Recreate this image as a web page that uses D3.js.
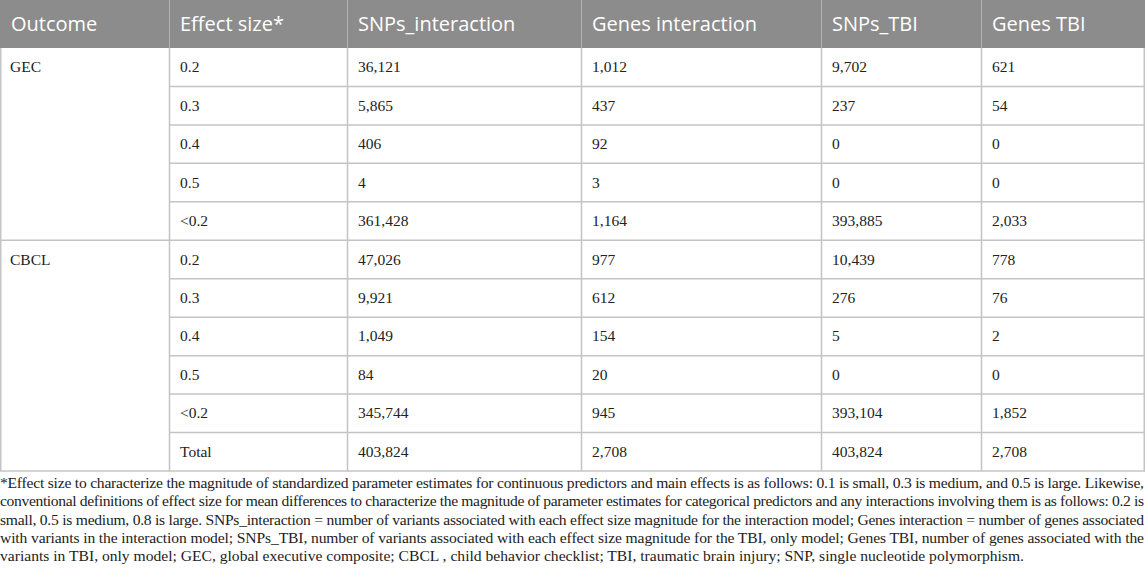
<!DOCTYPE html>
<html><head><meta charset="utf-8">
<script src="https://cdn.jsdelivr.net/npm/d3@7"></script>
<style>
html,body{margin:0;padding:0;background:#fff;}
svg{display:block;}
</style></head>
<body>
<script>
const columns = ["Outcome","Effect size*","SNPs_interaction","Genes interaction","SNPs_TBI","Genes TBI"];
const outcomes = ["GEC","CBCL"];
const gecEffect = ["0.2","0.3","0.4","0.5","<0.2"];
const gecSnpsInteraction = ["36,121","5,865","406","4","361,428"];
const gecGenesInteraction = ["1,012","437","92","3","1,164"];
const gecSnpsTBI = ["9,702","237","0","0","393,885"];
const gecGenesTBI = ["621","54","0","0","2,033"];
const cbclEffect = ["0.2","0.3","0.4","0.5","<0.2","Total"];
const cbclSnpsInteraction = ["47,026","9,921","1,049","84","345,744","403,824"];
const cbclGenesInteraction = ["977","612","154","20","945","2,708"];
const cbclSnpsTBI = ["10,439","276","5","0","393,104","403,824"];
const cbclGenesTBI = ["778","76","2","0","1,852","2,708"];
const footnoteLines = [
"*Effect size to characterize the magnitude of standardized parameter estimates for continuous predictors and main effects is as follows: 0.1 is small, 0.3 is medium, and 0.5 is large. Likewise,",
"conventional definitions of effect size for mean differences to characterize the magnitude of parameter estimates for categorical predictors and any interactions involving them is as follows: 0.2 is",
"small, 0.5 is medium, 0.8 is large. SNPs_interaction = number of variants associated with each effect size magnitude for the interaction model; Genes interaction = number of genes associated",
"with variants in the interaction model; SNPs_TBI, number of variants associated with each effect size magnitude for the TBI, only model; Genes TBI, number of genes associated with the",
"variants in TBI, only model; GEC, global executive composite; CBCL , child behavior checklist; TBI, traumatic brain injury; SNP, single nucleotide polymorphism."
];

const W = 1145, H = 579;
const colEdges = [0,169,347,581,821,981,1145];
const headerH = 48, tableBottom = 471;
const pad = 11;

const rows = [];
gecEffect.forEach((e,i)=>rows.push({outcome:i===0?outcomes[0]:"",cells:[e,gecSnpsInteraction[i],gecGenesInteraction[i],gecSnpsTBI[i],gecGenesTBI[i]]}));
cbclEffect.forEach((e,i)=>rows.push({outcome:i===0?outcomes[1]:"",cells:[e,cbclSnpsInteraction[i],cbclGenesInteraction[i],cbclSnpsTBI[i],cbclGenesTBI[i]]}));

const y = d3.scaleBand().domain(d3.range(rows.length)).range([headerH, tableBottom]).padding(0);
const rh = y.bandwidth();

const svg = d3.select("body").append("svg").attr("width",W).attr("height",H);

// header
svg.append("rect").attr("x",0).attr("y",0).attr("width",W).attr("height",headerH).attr("fill","#8c8c8c");
svg.selectAll(".hdiv").data(colEdges.slice(1,-1)).enter().append("line")
  .attr("x1",d=>d+0.5).attr("x2",d=>d+0.5).attr("y1",0).attr("y2",headerH)
  .attr("stroke","#b4b4b4").attr("stroke-width",1);
svg.selectAll(".htext").data(columns).enter().append("text")
  .attr("x",(d,i)=>colEdges[i]+pad).attr("y",31)
  .attr("fill","#fff").attr("font-family","'Open Sans', sans-serif").attr("font-size",20)
  .text(d=>d);

const gridColor = "#c4c4c4";
const g = svg.append("g");
rows.forEach((r,i)=>{
  const yy = y(i)+rh;
  g.append("line").attr("x1",colEdges[1]).attr("x2",W).attr("y1",yy).attr("y2",yy)
   .attr("stroke",gridColor).attr("stroke-width",1.5);
});
const groupEnd = gecEffect.length;
g.append("line").attr("x1",0).attr("x2",colEdges[1]).attr("y1",y(groupEnd)).attr("y2",y(groupEnd))
  .attr("stroke",gridColor).attr("stroke-width",1.5);
g.append("line").attr("x1",0).attr("x2",colEdges[1]).attr("y1",tableBottom).attr("y2",tableBottom)
  .attr("stroke",gridColor).attr("stroke-width",1.5);
colEdges.forEach((x,i)=>{
  const xx = i===0?0.75:(i===colEdges.length-1?W-0.75:x+0.5);
  g.append("line").attr("x1",xx).attr("x2",xx).attr("y1",headerH).attr("y2",tableBottom)
   .attr("stroke",gridColor).attr("stroke-width",1.5);
});

const bodyFont = "'Liberation Serif','Times New Roman',serif";
rows.forEach((r,i)=>{
  const by = y(i)+rh/2+5;
  if(r.outcome) svg.append("text").attr("x",colEdges[0]+pad-1).attr("y",by)
    .attr("font-family",bodyFont).attr("font-size",15.5).attr("fill","#222").text(r.outcome);
  r.cells.forEach((c,j)=>{
    svg.append("text").attr("x",colEdges[j+1]+pad).attr("y",by)
      .attr("font-family",bodyFont).attr("font-size",15.5).attr("fill","#222").text(c);
  });
});

// footnote
const fnY = d3.scaleLinear().domain([0,4]).range([488,561]);
footnoteLines.forEach((t,i)=>{
  const tx = svg.append("text").attr("x",0).attr("y",fnY(i))
    .attr("font-family",bodyFont).attr("font-size",15.6).attr("fill","#222").text(t);
  if(i<footnoteLines.length-1){
    tx.attr("textLength",W-1).attr("lengthAdjust","spacing");
  }
});
</script>
</body></html>
